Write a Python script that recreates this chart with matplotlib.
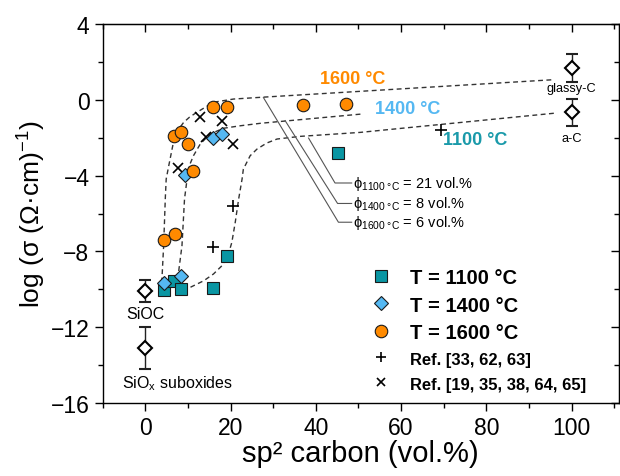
import matplotlib
matplotlib.use("Agg")
import matplotlib.pyplot as plt
from matplotlib.lines import Line2D
from matplotlib.ticker import MultipleLocator

plt.rcParams["font.family"] = ["Liberation Sans", "DejaVu Sans"]
plt.rcParams["mathtext.fontset"] = "custom"
plt.rcParams["mathtext.rm"] = "Liberation Sans"
plt.rcParams["mathtext.it"] = "Liberation Sans:italic"
plt.rcParams["mathtext.bf"] = "Liberation Sans:bold"

TEAL = "#0a96a3"
BLUE = "#55b8f2"
ORANGE = "#ff8a00"

# this work
x1100 = [4.3, 6.8, 8.4, 15.8, 19.2, 45.3]
y1100 = [-10.04, -9.55, -9.98, -9.93, -8.26, -2.79]
x1400 = [4.3, 8.4, 9.4, 15.8, 18.1]
y1400 = [-9.67, -9.31, -3.97, -2.02, -1.80]
x1600 = [4.3, 7.0, 6.8, 8.4, 9.9, 11.1, 15.9, 19.2, 37.0, 47.1]
y1600 = [-7.40, -7.10, -1.89, -1.68, -2.35, -3.76, -0.40, -0.36, -0.26, -0.22]

# literature
x_ref1 = [20.6, 15.8, 69.4]
y_ref1 = [-5.60, -7.75, -1.58]
x_ref2 = [12.9, 18.1, 14.3, 20.5, 7.7]
y_ref2 = [-0.92, -1.12, -1.95, -2.35, -3.60]

# reference materials (value, error)
ref_names = ["SiOC", "SiO$_\\mathregular{x}$ suboxides", "glassy-C", "a-C"]
ref_x = [0, 0, 100, 100]
ref_y = [-10.07, -13.1, 1.68, -0.66]
ref_err = [0.58, 1.09, 0.74, 0.72]

# percolation fit curves
fit1600_x = [3.7, 3.9, 4.3, 4.7, 4.9, 5.5, 6.6, 7.7, 9.0, 10.4, 12.1, 16.0, 20.7, 27.0, 95.7]
fit1600_y = [-9.63, -9.46, -7.70, -5.15, -4.18, -3.48, -2.24, -1.59, -1.19, -0.91, -0.66, -0.13, 0.04, 0.13, 1.06]
fit1400_x = [7.4, 7.8, 8.6, 9.2, 9.8, 10.3, 11.3, 12.9, 15.2, 18.4, 22.3, 27.0, 50.8]
fit1400_y = [-9.46, -9.10, -7.70, -5.23, -4.18, -3.49, -2.95, -2.33, -1.80, -1.50, -1.37, -1.24, -0.75]
fit1100_x = [10.6, 13.7, 16.0, 18.0, 19.5, 20.3, 21.1, 21.9, 22.7, 23.0, 24.6, 26.2, 28.5, 30.9, 36.3, 50.4, 96.3]
fit1100_y = [-9.89, -9.55, -9.19, -8.75, -8.14, -7.52, -6.46, -5.23, -4.18, -3.66, -2.95, -2.60,
             -2.28, -2.07, -1.93, -1.72, -0.70]

phi_labels = ["1100 °C", "1400 °C", "1600 °C"]
phi_values = [21, 8, 6]
# leader lines: start on curve, elbow, end at label
lead_x = [[38.3, 44.5, 48.4], [32.8, 45.1, 48.4], [27.7, 45.3, 48.4]]
lead_y = [[-2.02, -4.39, -4.39], [-1.10, -5.47, -5.47], [0.12, -6.46, -6.46]]

fig = plt.figure(figsize=(6.2, 4.77), dpi=100)
ax = fig.add_axes([0.1656, 0.153, 0.8327, 0.7946])

dash = (0, (3.5, 2.5))
for fx, fy in [(fit1600_x, fit1600_y), (fit1400_x, fit1400_y), (fit1100_x, fit1100_y)]:
    ax.plot(fx, fy, ls=dash, color="#333333", lw=1, zorder=1)

for lx, ly in zip(lead_x, lead_y):
    ax.plot(lx, ly, color="#555555", lw=0.8, zorder=1)

ax.plot(x_ref1, y_ref1, "+", color="black", ms=9, mew=1.2, zorder=3)
ax.plot(x_ref2, y_ref2, "x", color="black", ms=7, mew=1.2, zorder=3)
ax.plot(x1100, y1100, "s", mfc=TEAL, mec="#1a1a1a", mew=0.8, ms=8, ls="none", zorder=4)
ax.plot(x1400, y1400, "D", mfc=BLUE, mec="#1a1a1a", mew=0.8, ms=7.5, ls="none", zorder=4)
ax.plot(x1600, y1600, "o", mfc=ORANGE, mec="#1a1a1a", mew=0.8, ms=9, ls="none", zorder=5)

ax.errorbar(ref_x, ref_y, yerr=ref_err, fmt="D", mfc="white", mec="black", ms=7.5, mew=1.5,
            ecolor="#222222", elinewidth=1, capsize=4, capthick=1, zorder=4)

ax.text(0, -11.3, ref_names[0], ha="center", va="center", fontsize=11.5)
ax.text(-5.5, -14.9, ref_names[1], ha="left", va="center", fontsize=11.5)
ax.text(100, 0.6, ref_names[2], ha="center", va="center", fontsize=9.2)
ax.text(100, -2.03, ref_names[3], ha="center", va="center", fontsize=9.2)

ax.text(41.0, 1.1, "1600 °C", color=ORANGE, fontsize=13, fontweight="bold", va="center")
ax.text(53.9, -0.48, "1400 °C", color=BLUE, fontsize=13, fontweight="bold", va="center")
ax.text(69.8, -2.12, "1100 °C", color="#1a9aaa", fontsize=13, fontweight="bold", va="center")

for lab, val, ly in zip(phi_labels, phi_values, lead_y):
    ax.text(48.8, ly[-1], r"$\mathrm{\phi}_{\mathregular{%s}}$ = %d vol.%%" % (lab.replace(" ", r"\ "), val),
            fontsize=10.5, va="center", ha="left")

ax.set_xlim(-10, 111.1)
ax.set_ylim(-16, 4)
ax.set_xticks([0, 20, 40, 60, 80, 100])
ax.set_yticks([-16, -12, -8, -4, 0, 4])
ax.xaxis.set_minor_locator(MultipleLocator(10))
ax.yaxis.set_minor_locator(MultipleLocator(2))
ax.tick_params(which="major", direction="out", length=6, width=1, labelsize=16.5)
ax.tick_params(which="minor", direction="out", length=3.5, width=1)
for s in ax.spines.values():
    s.set_linewidth(1)

secx = ax.secondary_xaxis("top")
secx.set_xticks([0, 20, 40, 60, 80, 100])
secx.xaxis.set_minor_locator(MultipleLocator(10))
secx.tick_params(which="major", direction="in", length=6, width=1, labeltop=False)
secx.tick_params(which="minor", direction="in", length=3.5, width=1)
secy = ax.secondary_yaxis("right")
secy.set_yticks([-16, -12, -8, -4, 0, 4])
secy.yaxis.set_minor_locator(MultipleLocator(2))
secy.tick_params(which="major", direction="in", length=6, width=1, labelright=False)
secy.tick_params(which="minor", direction="in", length=3.5, width=1)

ax.set_xlabel("sp² carbon (vol.%)", fontsize=21, labelpad=0)
ax.set_ylabel("log (σ (Ω·cm)$^{\\mathregular{-1}}$)", fontsize=19, labelpad=2)

handles = [
    Line2D([], [], marker="s", ls="none", mfc=TEAL, mec="#1a1a1a", mew=0.8, ms=8),
    Line2D([], [], marker="D", ls="none", mfc=BLUE, mec="#1a1a1a", mew=0.8, ms=7.5),
    Line2D([], [], marker="o", ls="none", mfc=ORANGE, mec="#1a1a1a", mew=0.8, ms=9),
    Line2D([], [], marker="+", ls="none", color="black", ms=7, mew=1.2),
    Line2D([], [], marker="x", ls="none", color="black", ms=6, mew=1.2),
]
labels = ["T = 1100 °C", "T = 1400 °C", "T = 1600 °C", "Ref. [33, 62, 63]", "Ref. [19, 35, 38, 64, 65]"]
leg = ax.legend(handles, labels, loc="upper left", bbox_to_anchor=(0.516, 0.355), frameon=False,
                borderaxespad=0, borderpad=0, handlelength=1.2, handletextpad=0.85,
                labelspacing=0.4, prop={"size": 14.5, "weight": "bold"})
for t in leg.get_texts()[3:]:
    t.set_fontsize(11.9)

fig.savefig("out.png", dpi=100)
